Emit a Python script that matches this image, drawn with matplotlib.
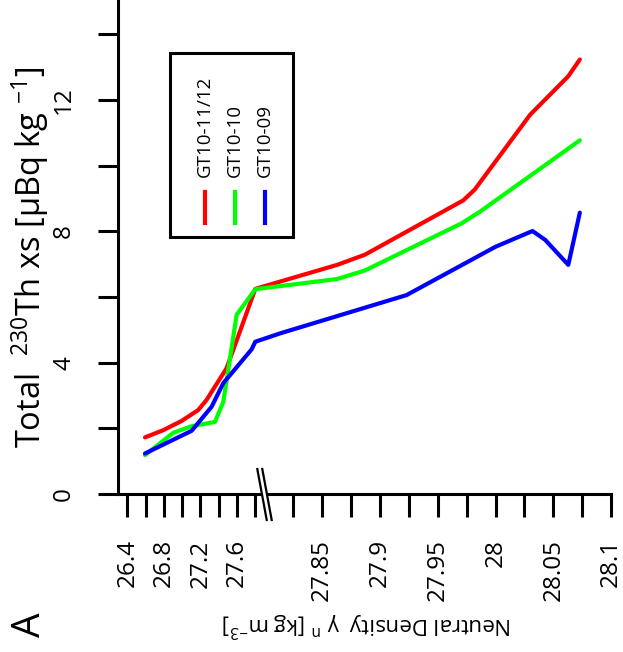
import numpy as np
import matplotlib
matplotlib.use("Agg")
import matplotlib.pyplot as plt
from matplotlib.patches import Rectangle, Polygon
from matplotlib.lines import Line2D

plt.rcParams['font.family'] = ['Open Sans', 'DejaVu Sans']
plt.rcParams['mathtext.fontset'] = 'custom'
plt.rcParams['mathtext.rm'] = 'Open Sans'

# values: neutral density vs total 230Th xs
dens_1112 = [26.594, 26.794, 26.994, 27.175, 27.267, 27.485, 27.612, 27.8,
             27.863, 27.887, 27.972, 27.982, 28.030, 28.063, 28.073]
th_1112 = [1.73, 1.95, 2.23, 2.56, 2.87, 3.83, 4.80, 6.25,
           6.98, 7.29, 8.94, 9.27, 11.55, 12.72, 13.23]

dens_10 = [26.594, 26.903, 27.104, 27.359, 27.450, 27.504, 27.596, 27.8,
           27.863, 27.887, 27.971, 27.987, 28.073]
th_10 = [1.19, 1.87, 2.07, 2.20, 2.81, 3.78, 5.46, 6.24,
         6.55, 6.81, 8.25, 8.61, 10.77]

dens_09 = [26.594, 27.104, 27.322, 27.450, 27.760, 27.8,
           27.814, 27.923, 28.000, 28.032, 28.043, 28.063, 28.073]
th_09 = [1.24, 1.93, 2.66, 3.38, 4.41, 4.64,
         4.90, 6.06, 7.53, 8.01, 7.74, 6.98, 8.57]

names = ['GT10-11/12', 'GT10-10', 'GT10-09']
colors = ['#ff0000', '#00ff00', '#0000ff']

xticks_low = [26.4, 26.6, 26.8, 27.0, 27.2, 27.4, 27.6, 27.8]
xlabels_low = ['26.4', '', '26.8', '', '27.2', '', '27.6', '']
xticks_high = [27.825, 27.85, 27.875, 27.9, 27.925, 27.95, 27.975,
               28.0, 28.025, 28.05, 28.075, 28.1]
xlabels_high = ['', '27.85', '', '27.9', '', '27.95', '', '28',
                '', '28.05', '', '28.1']
yticks = [0, 2, 4, 6, 8, 10, 12, 14]
ylabels = ['0', '', '4', '', '8', '', '12', '']

BREAK = 27.8


# broken axis: coarse below 27.8, stretched above
def fwd(x):
    x = np.asarray(x, dtype=float)
    return np.where(x <= BREAK, (x - 26.4) / 0.2,
                    7.5 + (x - BREAK) / 0.025 * 1.579)


def inv(u):
    u = np.asarray(u, dtype=float)
    lo = 26.4 + u * 0.2
    hi = BREAK + (u - 7.5) / 1.579 * 0.025
    return np.where(u <= 7, lo, np.where(u < 7.5, BREAK, hi))


fig = plt.figure(figsize=(6.23, 6.52), dpi=100)
ax = fig.add_axes([0.1899, 0.2420, 0.7909, 0.758])
ax.set_xscale('function', functions=(fwd, inv))
ax.set_xlim(26.302, 28.1)
ax.set_ylim(0, 15.04)

for d, t, c in zip([dens_1112, dens_10, dens_09], [th_1112, th_10, th_09], colors):
    ax.plot(d, t, color=c, lw=3, solid_capstyle='round', solid_joinstyle='round')

for side in ['top', 'right']:
    ax.spines[side].set_visible(False)
for side in ['left', 'bottom']:
    ax.spines[side].set_linewidth(2.2)

ax.set_xticks(xticks_low + xticks_high, xlabels_low + xlabels_high)
ax.set_yticks(yticks, ylabels)
ax.minorticks_off()
ax.tick_params(axis='x', direction='out', length=16.5, width=2.2, pad=16,
               labelsize=17.5, labelrotation=90)
ax.tick_params(axis='y', direction='out', length=14.4, width=2.2, pad=16,
               labelsize=17.5)
for lab in ax.get_yticklabels():
    lab.set_rotation(90)
    lab.set_va('center')
    lab.set_ha('right')

# axis break marks
s1 = [(0.2821, 0.0510), (0.3012, -0.0522)]
s2 = [(0.2922, 0.0510), (0.3113, -0.0522)]
ax.add_patch(Polygon(s1 + s2[::-1], closed=True, transform=ax.transAxes,
                     facecolor='white', edgecolor='none', clip_on=False, zorder=5))
for s in (s1, s2):
    ax.add_line(Line2D([s[0][0], s[1][0]], [s[0][1], s[1][1]], transform=ax.transAxes,
                       color='black', lw=1.6, clip_on=False, zorder=6))

# legend (rotated like the rest of the panel)
fig.add_artist(Rectangle((170 / 623, 1 - 237.3 / 652), 122.7 / 623, 184.6 / 652,
                         transform=fig.transFigure, fill=False, lw=2.2, edgecolor='black'))
for xp, name, c in zip([205, 235, 265], names, colors):
    fig.text(xp / 623, 1 - 177 / 652, name, rotation=90, ha='center', va='bottom',
             fontsize=13.5)
    fig.add_artist(Line2D([xp / 623, xp / 623], [1 - 192 / 652, 1 - 222.7 / 652],
                          transform=fig.transFigure, color=c, lw=3))

fig.text(30 / 623, 1 - 257 / 652,
         r'Total  $\mathregular{^{230}}$Th xs [µBq kg $\mathregular{^{-1}}$]',
         rotation=90, ha='center', va='center', fontsize=23.5)
fig.text(367 / 623, 1 - 624 / 652,
         r'Neutral Density  γ $\mathregular{^{n}}$ [kg m$\mathregular{^{-3}}$]',
         rotation=180, ha='center', va='center', fontsize=16)
fig.text(30 / 623, 1 - 625 / 652, 'A', rotation=90, ha='center', va='center',
         fontsize=28)

fig.savefig('out.png', dpi=100)
